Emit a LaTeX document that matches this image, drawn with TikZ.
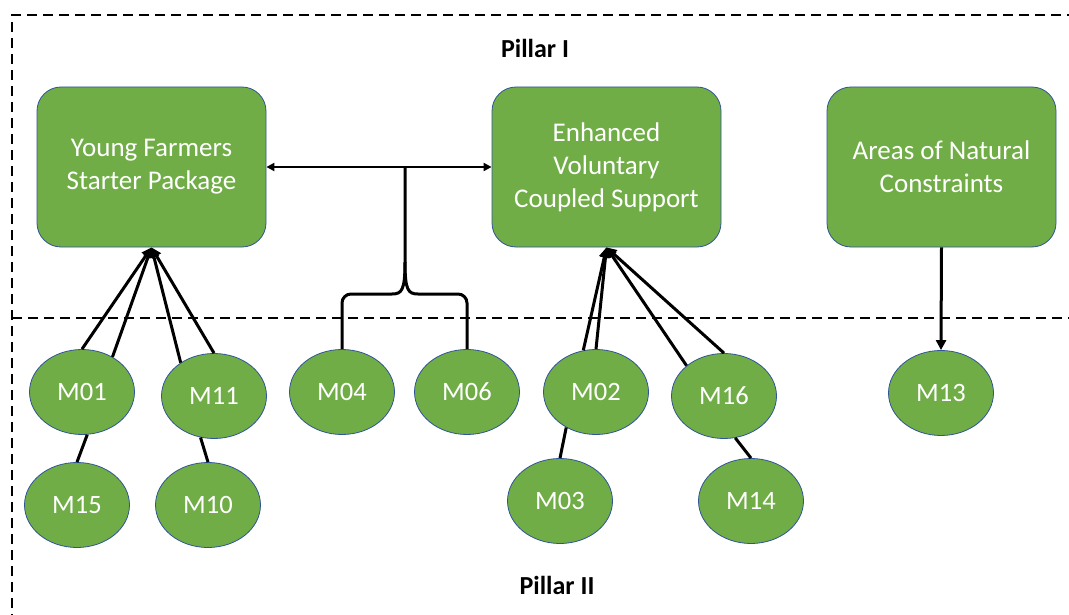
\documentclass[tikz,border=0pt]{standalone}
\usepackage{fontspec}
\setmainfont{Carlito}
\usetikzlibrary{arrows.meta,shapes.geometric}
\definecolor{leaf}{HTML}{70AD47}
\definecolor{rim}{HTML}{2F5597}

\begin{document}
\begin{tikzpicture}[x=1pt,y=-1pt,
  box/.style={draw=rim, line width=0.8pt, fill=leaf, rounded corners=24pt,
    minimum width=229pt, minimum height=160pt, text=white, align=center,
    font=\fontsize{27}{33}\selectfont},
  meas/.style={ellipse, draw=rim, line width=0.8pt, fill=leaf,
    minimum width=105pt, minimum height=85pt, inner sep=0pt, text=white,
    font=\fontsize{26.5}{30}\selectfont},
  link/.style={line width=3pt},
  tip/.style={-{Triangle[length=10pt,width=10pt]}},
  guide/.style={line width=2.3pt, dash pattern=on 10pt off 6pt},
  title/.style={font=\bfseries\fontsize{26}{30}\selectfont}]

\useasboundingbox (0,0) rectangle (1069,615);
\clip (0,0) rectangle (1069,615);

% frame of the two pillars
\draw[guide] (12,640) -- (12,15) -- (1090,15);
\draw[guide] (12,318) -- (1090,318);

\node[title] (p1) at (535,48) {Pillar I};
\node[title] (p2) at (557,585) {Pillar II};

% Pillar I instruments
\node[box] (yf) at (151.5,167) {Young Farmers\\Starter Package};
\node[box] (ev) at (606.5,167) {Enhanced\\Voluntary\\Coupled Support};
\node[box] (an) at (941.5,167) {Areas of Natural\\Constraints};

% Pillar II measures
\node[meas] (m01) at (82,392)  {M01};
\node[meas] (m11) at (214,396) {M11};
\node[meas] (m15) at (77,505)  {M15};
\node[meas] (m10) at (208,505) {M10};
\node[meas] (m04) at (342,392) {M04};
\node[meas] (m06) at (467,392) {M06};
\node[meas] (m02) at (596,392) {M02};
\node[meas] (m16) at (724,396) {M16};
\node[meas] (m03) at (560,501) {M03};
\node[meas] (m14) at (751,501) {M14};
\node[meas] (m13) at (941,393) {M13};

% link between the two Pillar I packages
\draw[line width=2.8pt, {Triangle[length=8pt,width=8pt]}-{Triangle[length=8pt,width=8pt]}] (yf.east) -- (ev.west);

% curly brace joining M04 and M06 to that link
\coordinate (jn) at (405,167);
\coordinate (cusp) at (405,262);
\draw[link] (jn) -- (cusp) .. controls (405,290) and (402,294) .. (392,294)
  [rounded corners=9pt] -| (m04.north);
\draw[link] (cusp) .. controls (405,290) and (408,294) .. (418,294)
  [rounded corners=9pt] -| (m06.north);

% measures feeding Young Farmers Starter Package
\draw[link, tip] (m01.north) -- (yf.south);
\draw[link, tip] (m01.49) -- (yf.south);
\draw[link, tip] (m11.135) -- (yf.south);
\draw[link, tip] (m11.north) -- (yf.south);
\draw[link] (m01.-83) -- (m15.north);
\draw[link] (m11.-108) -- (m10.north);

% measures feeding Enhanced Voluntary Coupled Support
\draw[link, tip] (m02.107) -- (ev.south);
\draw[link, tip] (m02.north) -- (ev.south);
\draw[link, tip] (m16.141) -- (ev.south);
\draw[link, tip] (m16.north) -- (ev.south);
\draw[link] (m02.-130) -- (m03.north);
\draw[link] (m16.-75) -- (m14.north);

% Areas of Natural Constraints
\draw[link, tip] (an.south) -- (m13.north);
\end{tikzpicture}
\end{document}
